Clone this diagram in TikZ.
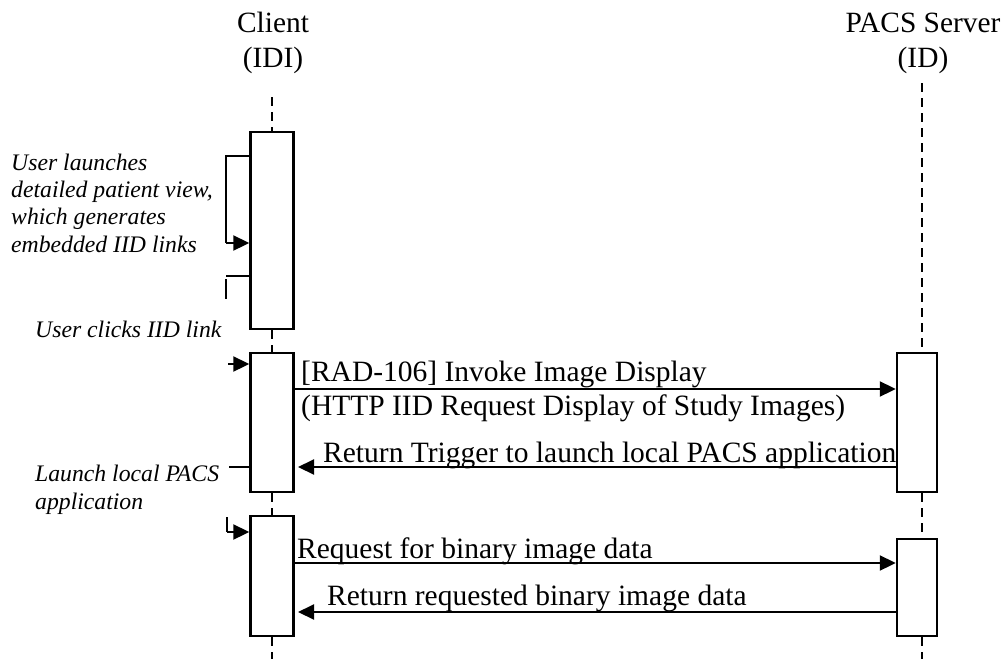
\documentclass[tikz,border=0pt]{standalone}
\usepackage{fontspec}
\setmainfont{Liberation Serif}
\usetikzlibrary{arrows.meta}
\begin{document}
\begin{tikzpicture}[x=1pt,y=-1pt,
  actbox/.style={draw=black,line width=2.4pt,fill=white,inner sep=0pt},
  lifeline/.style={line width=2pt,dash pattern=on 9pt off 6pt},
  msg/.style={line width=2pt,-{Triangle[length=16pt,width=15pt]}},
  selfline/.style={line width=2pt},
  hdr/.style={font=\fontsize{29.4}{35}\selectfont,align=center,anchor=base,inner sep=0pt},
  mtxt/.style={font=\fontsize{29.5}{33.4}\selectfont,align=left,anchor=base west,inner sep=0pt},
  note/.style={font=\fontsize{23.7}{27.3}\selectfont\itshape,align=left,anchor=base west,inner sep=0pt}]
\useasboundingbox (0,0) rectangle (1005,659);
% headers (base anchor = last line)
\node[hdr] (hc) at (273,67) {Client\\(IDI)};
\node[hdr] (hs) at (923,67) {PACS Server\\(ID)};
% activation boxes
\node[actbox,minimum width=43pt,minimum height=197pt] (c1) at (272,230.5) {};
\node[actbox,minimum width=43pt,minimum height=139pt] (c2) at (272,422.5) {};
\node[actbox,minimum width=43pt,minimum height=120pt] (c3) at (272,576) {};
\node[actbox,minimum width=40pt,minimum height=139pt] (s1) at (917,422.5) {};
\node[actbox,minimum width=40pt,minimum height=97pt] (s2) at (917,587.5) {};
% lifelines
\coordinate (ct) at (272,97);
\coordinate (cb) at (272,659);
\coordinate (st) at (922,83);
\coordinate (sb) at (922,659);
\draw[lifeline] (ct) -- (c1.north);
\draw[lifeline] (c1.south) -- (c2.north);
\draw[lifeline] (c2.south) -- (c3.north);
\draw[lifeline] (c3.south) -- (cb);
\draw[lifeline] (st) -- (st |- s1.north);
\draw[lifeline] (st |- s1.south) -- (st |- s2.north);
\draw[lifeline] (st |- s2.south) -- (sb);
% self messages on client
\coordinate (l1a) at (226,156);
\coordinate (l1b) at (226,243);
\draw[selfline] (c1.west |- l1a) -- (l1a) -- (l1b);
\draw[msg] (l1b) -- (c1.west |- l1b);
\coordinate (l2a) at (226,276);
\coordinate (l2b) at (226,279);
\coordinate (l2c) at (226,299);
\draw[selfline] (c1.west |- l2a) -- (l2a);
\draw[selfline] (l2b) -- (l2c);
\coordinate (l3a) at (228,364);
\draw[msg] (l3a) -- (c2.west |- l3a);
\coordinate (l4a) at (229,467);
\draw[selfline] (l4a) -- (c2.west |- l4a);
\coordinate (l5a) at (227,517);
\coordinate (l5b) at (227,532);
\draw[selfline] (l5a) -- (l5b);
\draw[msg] (l5b) -- (c3.west |- l5b);
% messages
\coordinate (m1) at (0,389);
\coordinate (m2) at (0,467);
\coordinate (m2e) at (298,467);
\coordinate (m3) at (0,563);
\coordinate (m4) at (0,612);
\coordinate (m4e) at (298,612);
\draw[msg] (c2.east |- m1) -- (s1.west |- m1);
\draw[msg] (s1.west |- m2) -- (m2e);
\draw[msg] (c3.east |- m3) -- (s2.west |- m3);
\draw[msg] (s2.west |- m4) -- (m4e);
% message labels
\node[mtxt] (t1) at (301,415) {[RAD-106] Invoke Image Display\\(HTTP IID Request Display of Study Images)};
\node[mtxt] (t2) at (323,462) {Return Trigger to launch local PACS application};
\node[mtxt] (t3) at (297,558) {Request for binary image data};
\node[mtxt] (t4) at (327,605) {Return requested binary image data};
% notes
\node[note] (n1) at (11,252) {User launches\\detailed patient view,\\which generates\\embedded IID links};
\node[note] (n2) at (35,337) {User clicks IID link};
\node[note] (n3) at (35,509) {Launch local PACS\\application};
\end{tikzpicture}
\end{document}
